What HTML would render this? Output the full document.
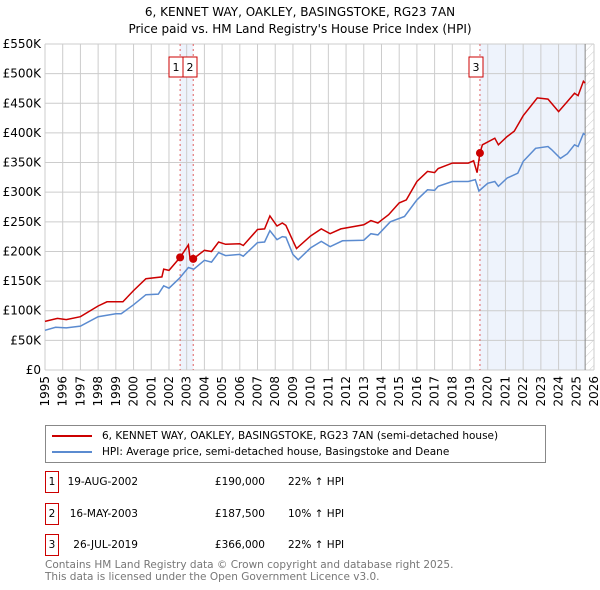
<!DOCTYPE html>
<html><head><meta charset="utf-8"><style>
body{margin:0;background:#fff;font-family:"DejaVu Sans","Liberation Sans",sans-serif;}
#wrap{position:relative;width:600px;height:590px;overflow:hidden}
</style></head><body><div id="wrap">
<svg id="chart" width="600" height="590" style="position:absolute;left:0;top:0;font-family:'DejaVu Sans','Liberation Sans',sans-serif">
<defs><pattern id="hatch" width="6" height="6" patternUnits="userSpaceOnUse" patternTransform="rotate(45)"><line x1="0" y1="0" x2="0" y2="6" stroke="#ccc" stroke-width="1"/></pattern></defs>
<text x="300" y="16" text-anchor="middle" font-size="12">6, KENNET WAY, OAKLEY, BASINGSTOKE, RG23 7AN</text>
<text x="300" y="33" text-anchor="middle" font-size="12">Price paid vs. HM Land Registry's House Price Index (HPI)</text>
<g id="grid"></g><g id="series"></g><g id="axes"></g>
</svg>
<div style="position:absolute;left:45px;top:425px;width:499px;height:36px;border:1px solid #888;font-size:10.5px">
<div style="position:absolute;left:6px;top:4px;white-space:nowrap"><span style="display:inline-block;width:40px;height:2px;background:#cc0000;vertical-align:middle;margin-right:10px"></span>6, KENNET WAY, OAKLEY, BASINGSTOKE, RG23 7AN (semi-detached house)</div>
<div style="position:absolute;left:6px;top:20px;white-space:nowrap"><span style="display:inline-block;width:40px;height:2px;background:#5b8bd0;vertical-align:middle;margin-right:10px"></span>HPI: Average price, semi-detached house, Basingstoke and Deane</div>
</div>
<div id="table" style="font-size:10.5px"></div>
<div style="position:absolute;left:45px;top:559px;font-size:10.5px;color:#777;line-height:12px">Contains HM Land Registry data © Crown copyright and database right 2025.<br>This data is licensed under the Open Government Licence v3.0.</div>
</div>
<script>
const yTicks=[0,50,100,150,200,250,300,350,400,450,500,550];
const xYears=[1995,1996,1997,1998,1999,2000,2001,2002,2003,2004,2005,2006,2007,2008,2009,2010,2011,2012,2013,2014,2015,2016,2017,2018,2019,2020,2021,2022,2023,2024,2025,2026];
const hpiT=[1995,1995.6,1996.2,1997,1998,1999,1999.3,2000,2000.7,2001.4,2001.7,2002,2002.6,2003.1,2003.4,2004,2004.4,2004.8,2005.2,2006,2006.2,2007,2007.4,2007.7,2008.1,2008.4,2008.6,2009,2009.3,2010,2010.6,2011.1,2011.8,2013,2013.4,2013.8,2014.5,2015.3,2016,2016.6,2017,2017.2,2018,2018.9,2019.3,2019.5,2020,2020.4,2020.6,2021.1,2021.7,2022,2022.7,2023.4,2023.6,2024.1,2024.5,2024.9,2025.1,2025.4,2025.5];
const hpiV=[67,72,71,74,90,95,95,110,127,128,142,138,155,173,170,185,182,198,193,195,192,215,216,235,220,225,224,195,186,206,217,208,218,219,230,228,250,259,287,304,303,310,318,318,321,302,315,318,310,324,332,352,374,377,372,357,365,380,377,399,397];
const propT=[1995,1995.7,1996.2,1997,1998,1998.5,1999.4,2000,2000.7,2001.6,2001.7,2002,2002.63,2003.1,2003.2,2003.37,2004,2004.4,2004.8,2005.2,2006,2006.2,2007,2007.4,2007.7,2008.1,2008.4,2008.6,2009,2009.2,2010,2010.6,2011.1,2011.7,2013,2013.4,2013.8,2014.4,2015,2015.4,2016,2016.6,2017,2017.2,2018,2018.9,2019.2,2019.4,2019.56,2019.7,2020.4,2020.6,2021.1,2021.5,2022,2022.8,2023.4,2024,2024.5,2024.9,2025.1,2025.4,2025.5];
const propV=[82,87,85,90,108,115,115,134,154,157,170,168,190,211,186,187.5,202,200,216,212,213,210,237,238,260,243,248,244,218,205,226,238,230,238,245,252,248,262,282,287,318,335,333,340,349,349,353,333,366,380,391,380,394,403,429,459,457,436,453,467,463,487,484];
const saleLabels=["1","2","3"];
const saleT=[2002.63,2003.37,2019.56];
const saleV=[190,187.5,366];
const saleDates=["19-AUG-2002","16-MAY-2003","26-JUL-2019"];
const salePrices=["£190,000","£187,500","£366,000"];
const saleHpi=["22% ↑ HPI","10% ↑ HPI","22% ↑ HPI"];

const X0=45,X1=594,Y0=370,Y1=44;
const x=t=>X0+(t-1995)/(2026-1995)*(X1-X0);
const y=v=>Y0-v/550*(Y0-Y1);
const NS="http://www.w3.org/2000/svg";
function mk(tag,attrs,parent){const e=document.createElementNS(NS,tag);for(const k in attrs)e.setAttribute(k,attrs[k]);parent.appendChild(e);return e;}
const grid=document.getElementById('grid'),ser=document.getElementById('series'),ax=document.getElementById('axes');
let r=mk('rect',{x:x(saleT[0]),y:Y1,width:x(saleT[1])-x(saleT[0]),height:Y0-Y1,fill:'#eef3fc'},grid);


r=mk('rect',{x:x(saleT[2]),y:Y1,width:x(2025.5)-x(saleT[2]),height:Y0-Y1,fill:'#eef3fc'},grid);


r=mk('rect',{x:x(2025.5),y:Y1,width:X1-x(2025.5),height:Y0-Y1,fill:'url(#hatch)'},grid);


yTicks.forEach(v=>{
 const l=mk('line',{x1:X0,x2:X1,y1:y(v),y2:y(v),stroke:'#ccc'},grid);
 
 
 const t=mk('text',{x:X0-4,y:y(v)+4,'text-anchor':'end','font-size':12},ax);
 
 
 t.textContent='£'+(v===0?'0':v+'K');
});
xYears.forEach(yr=>{
 const l=mk('line',{x1:x(yr),x2:x(yr),y1:Y1,y2:Y0,stroke:'#ccc'},grid);
 
 
 const t=mk('text',{x:0,y:0,'text-anchor':'end','font-size':12,transform:`translate(${x(yr)+4},${Y0+6}) rotate(-90)`},ax);
 
 
 t.textContent=yr;
});
let b=mk('line',{x1:x(2025.5),x2:x(2025.5),y1:Y1,y2:Y0,stroke:'#888'},grid);


saleT.forEach((t,i)=>{
 const l=mk('line',{x1:x(t),x2:x(t),y1:Y1,y2:Y0,stroke:'#e06060','stroke-dasharray':'2,3'},grid);
 
 
 const bx=[169,183,469][i];
 const g=mk('rect',{x:bx,y:57,width:14,height:20,fill:'#fff',stroke:'#cc0000'},ax);
 
 
 const tt=mk('text',{x:bx+7,y:71,'text-anchor':'middle','font-size':11},ax);
 
 
 tt.textContent=saleLabels[i];
});
const path=(T,V)=>T.map((t,i)=>(i?'L':'M')+x(t).toFixed(1)+','+y(V[i]).toFixed(1)).join('');
let p=mk('path',{d:path(hpiT,hpiV),fill:'none',stroke:'#5b8bd0','stroke-width':1.5},ser);


p=mk('path',{d:path(propT,propV),fill:'none',stroke:'#cc0000','stroke-width':1.5},ser);


saleT.forEach((t,i)=>{
 const c=mk('circle',{cx:x(t),cy:y(saleV[i]),r:4,fill:'#cc0000'},ser);
 
 
});
const tb=document.getElementById('table');
saleLabels.forEach((lab,i)=>{
 const top=[471,503,534][i];
 const row=document.createElement('div');
 
 
 row.style.cssText=`position:absolute;left:0;top:${top}px;width:600px;height:22px`;
 row.innerHTML=`<span style="position:absolute;left:45px;top:0;width:12px;height:20px;border:1px solid #cc0000;text-align:center;line-height:20px">${lab}</span><span style="position:absolute;left:50px;width:88px;text-align:right;line-height:22px">${saleDates[i]}</span><span style="position:absolute;left:180px;width:85px;text-align:right;line-height:22px">${salePrices[i]}</span><span style="position:absolute;left:288px;line-height:22px">${saleHpi[i]}</span>`;
 tb.appendChild(row);
});
</script></body></html>
